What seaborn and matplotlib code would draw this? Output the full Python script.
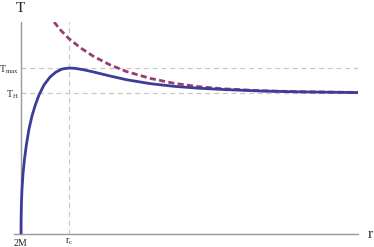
import matplotlib
matplotlib.use("Agg")
import matplotlib.pyplot as plt
import seaborn as sns
import pandas as pd

# Data (r in units with M = 1, T in units of T_H)
r_solid = [2.0, 2.004, 2.017, 2.042, 2.083, 2.146, 2.229, 2.333, 2.458, 2.583,
           2.75, 2.958, 3.208, 3.458, 3.708, 4.0, 4.25, 4.6, 5.0, 5.7, 6.4,
           7.4, 8.4, 9.4, 10.4, 12.0, 13.6, 16.1]
T_solid = [0.0, 0.106, 0.213, 0.319, 0.426, 0.532, 0.638, 0.745, 0.837, 0.908,
           0.986, 1.057, 1.113, 1.149, 1.170, 1.177, 1.175, 1.165, 1.150, 1.121,
           1.094, 1.066, 1.047, 1.034, 1.025, 1.014, 1.008, 1.003]

r_dashed = [3.38, 3.6, 4.0, 4.5, 5.0, 5.7, 6.4, 7.4, 8.4, 9.4, 10.4, 12.0,
            13.6, 16.1]
T_dashed = [1.504, 1.455, 1.385, 1.318, 1.262, 1.200, 1.152, 1.103, 1.068,
            1.045, 1.030, 1.016, 1.009, 1.004]

r_ticks = [2.0, 4.0]
r_tick_labels = [r"$\mathrm{2M}$", r"$\mathrm{r_c}$"]
T_ticks = [1.0, 1.177]
T_tick_labels = [r"$\mathrm{T_H}$", r"$\mathrm{T_{max}}$"]

sns.set_style("white")
plt.rcParams["font.family"] = ["Liberation Serif", "DejaVu Serif"]
plt.rcParams["mathtext.fontset"] = "custom"
plt.rcParams["mathtext.rm"] = "Liberation Serif"
plt.rcParams["mathtext.it"] = "Liberation Serif:italic"

fig = plt.figure(figsize=(3.74, 2.47), dpi=100)
W, H = 374, 247
ax = fig.add_axes([14 / W, (H - 234) / H, (358 - 14) / W, (234 - 22) / H])

xmin, xmax = 2.0 - 7 / 24, 2.0 + (358 - 21) / 24
ymin, ymax = 0.0, (234 - 22) / 141
ax.set_xlim(xmin, xmax)
ax.set_ylim(ymin, ymax)

grid_kw = dict(color="#c8c8c8", lw=0.9, ls=(0, (4, 3)), zorder=1)
ax.axhline(T_ticks[1], xmin=(2.0 - xmin) / (xmax - xmin), **grid_kw)
ax.axhline(T_ticks[0], xmin=(2.0 - xmin) / (xmax - xmin), **grid_kw)
ax.axvline(r_ticks[1], **grid_kw)

df_s = pd.DataFrame({"r": r_solid, "T": T_solid})
df_d = pd.DataFrame({"r": r_dashed, "T": T_dashed})
sns.lineplot(data=df_d, x="r", y="T", ax=ax, color="#993d70", lw=2.0,
             linestyle=(0, (2.2, 1.2)), sort=False, zorder=3)
sns.lineplot(data=df_s, x="r", y="T", ax=ax, color="#3d3d99", lw=2.0,
             sort=False, zorder=4)

for s in ["top", "right"]:
    ax.spines[s].set_visible(False)
ax.spines["left"].set_position(("data", 2.0))
for s in ["left", "bottom"]:
    ax.spines[s].set_color("#999999")
    ax.spines[s].set_linewidth(1.0)

ax.set_xticks(r_ticks)
ax.set_xticklabels(r_tick_labels, fontsize=7)
ax.set_yticks(T_ticks)
ax.set_yticklabels(T_tick_labels, fontsize=7)
ax.tick_params(length=0, pad=2)
ax.set_xlabel("")
ax.set_ylabel("")

fig.text(20 / W, 1 - 9 / H, "T", fontsize=11, ha="center", va="center")
fig.text(370 / W, 1 - 234 / H, "r", fontsize=11, ha="center", va="center")

fig.savefig("out.png", dpi=100)
